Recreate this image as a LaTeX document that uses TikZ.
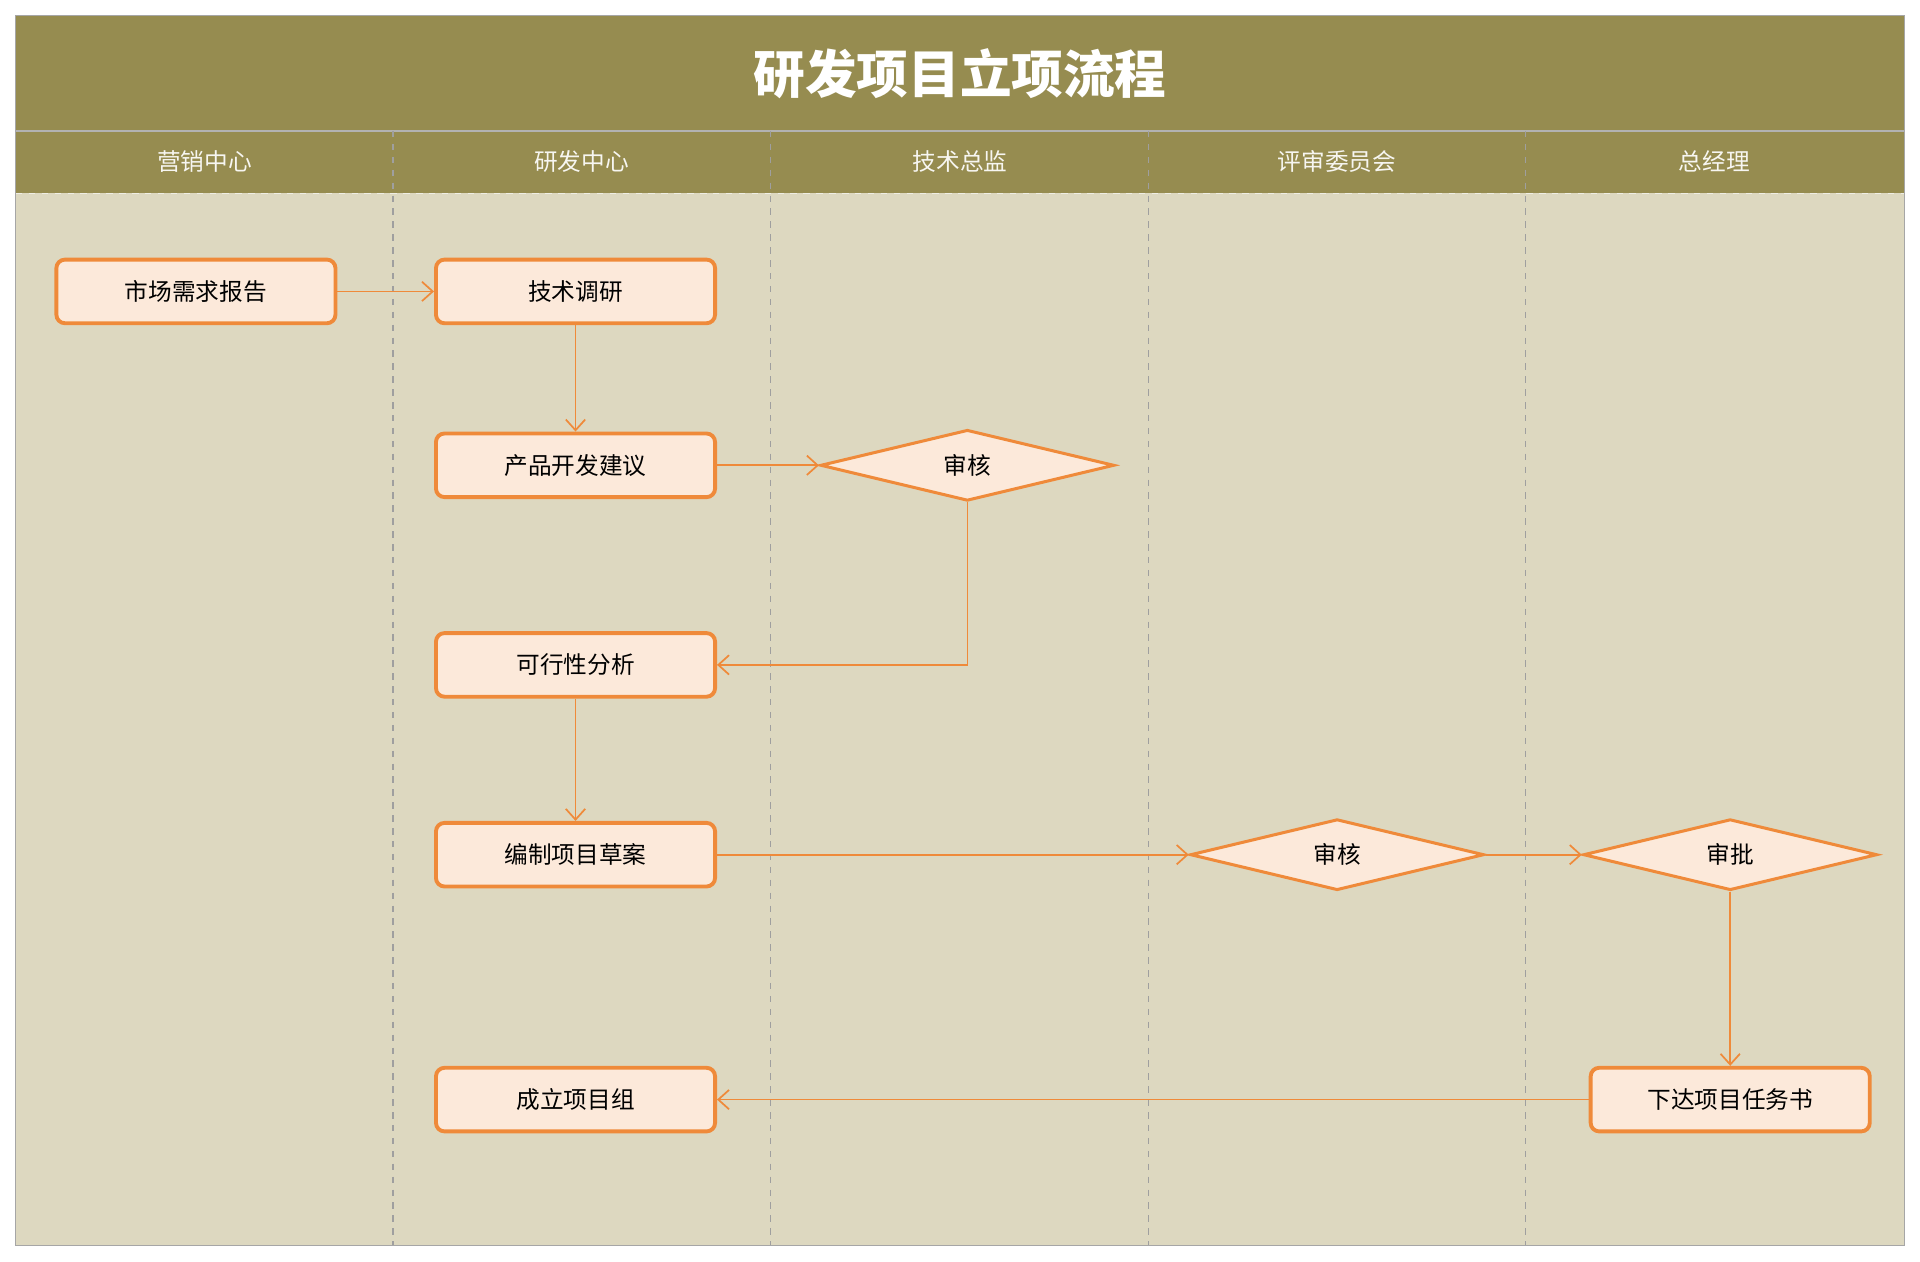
\documentclass[tikz,border=0pt]{standalone}
\usepackage{fontspec}
\setmainfont{Noto Sans CJK SC}
\usetikzlibrary{positioning}
\usetikzlibrary{shapes.geometric, arrows.meta}
\definecolor{olive}{HTML}{968C50}
\definecolor{lanebg}{HTML}{DDD8C0}
\definecolor{boxfill}{HTML}{FCE9DA}
\definecolor{boxline}{HTML}{EF8A3A}
\tikzset{
    paso/.style={draw=boxline, fill=boxfill, line width=1.8pt, rounded corners=4pt,
        minimum width=4.56cm, minimum height=1.04cm, font=\fontsize{11}{13}\selectfont},
    decision/.style={diamond, draw=boxline, fill=boxfill, line width=1.4pt, inner sep=0pt,
        minimum width=4.8cm, minimum height=1.16cm, font=\fontsize{11}{13}\selectfont},
    flecha/.style={draw=boxline, line width=0.8pt, -{Straight Barb[length=5pt,width=9pt]}},
    carril/.style={text=white!92!olive, font=\fontsize{11}{13}\selectfont}
}
\begin{document}
\begin{tikzpicture}[x=0.02cm, y=-0.02cm]
    \useasboundingbox (0,0) rectangle (1568,1030);
    \fill[white] (0,0) rectangle (1568,1030);

    % Fondo y encabezados
    \fill[lanebg] (13,158) rectangle (1555,1017);
    \fill[olive] (13,13) rectangle (1555,158);
    \draw[gray!60, line width=0.5pt] (13,107) -- (1555,107);
    \draw[white!85!olive, dashed, line width=0.8pt] (13,158) -- (1555,158);
    \draw[gray!70] (13,13) rectangle (1555,1017);
    \node[text=white, font=\bfseries\fontsize{24}{28}\selectfont] (titulo) at (784,60) {研发项目立项流程};

    % Carriles
    \foreach \x in {321,629,938,1246}
        \draw[gray!75, dashed, line width=0.6pt] (\x,107) -- (\x,1017);
    \node[carril] (c1) at (167,132) {营销中心};
    \node[carril] (c2) at (475,132) {研发中心};
    \node[carril] (c3) at (784,132) {技术总监};
    \node[carril] (c4) at (1092,132) {评审委员会};
    \node[carril] (c5) at (1400,132) {总经理};

    % Nodos
    \node[paso] (mercado) at (160,238) {市场需求报告};
    \node[paso] (tecnica) at (470,238) {技术调研};
    \node[paso] (producto) at (470,380) {产品开发建议};
    \node[decision] (rev1) at (790,380) {审核};
    \node[paso] (factible) at (470,543) {可行性分析};
    \node[paso] (borrador) at (470,698) {编制项目草案};
    \node[decision] (rev2) at (1092,698) {审核};
    \node[decision] (aprob) at (1413,698) {审批};
    \node[paso] (tarea) at (1413,898) {下达项目任务书};
    \node[paso] (grupo) at (470,898) {成立项目组};

    % Flechas
    \draw[flecha] (mercado) -- (tecnica);
    \draw[flecha] (tecnica) -- (producto);
    \draw[flecha] (producto) -- (rev1);
    \draw[flecha] (rev1.south) |- (factible.east);
    \draw[flecha] (factible) -- (borrador);
    \draw[flecha] (borrador) -- (rev2);
    \draw[flecha] (rev2) -- (aprob);
    \draw[flecha] (aprob) -- (tarea);
    \draw[flecha] (tarea) -- (grupo);
\end{tikzpicture}
\end{document}
